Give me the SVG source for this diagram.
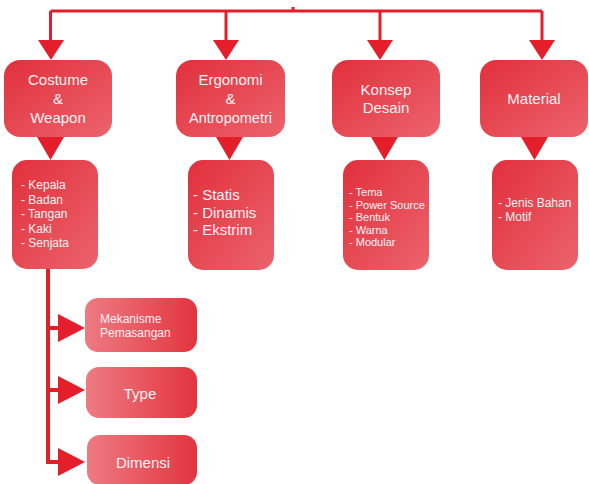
<svg xmlns="http://www.w3.org/2000/svg" width="589" height="484" viewBox="0 0 589 484">
<defs>
<linearGradient id="g1" x1="0" y1="0" x2="1" y2="1">
<stop offset="0" stop-color="#e1303c"/>
<stop offset="1" stop-color="#ec636c"/>
</linearGradient>
<linearGradient id="g2" x1="0" y1="0" x2="1" y2="0">
<stop offset="0" stop-color="#ee7b82"/>
<stop offset="1" stop-color="#e3343f"/>
</linearGradient>
</defs>
<style>
.box{fill:url(#g1);}
.box2{fill:url(#g2);}
.ln{stroke:#e31e2a;fill:none;}
.ah{fill:#e41e2b;}
text{font-family:"Liberation Sans",Arial,sans-serif;fill:#fff3f3;}
.c{text-anchor:middle;}
</style>
<g id="connectors">
<path class="ln" stroke-width="3" d="M50.5,11 H542 M50.5,11 V41 M226,11 V41 M380,11 V41 M542,11 V41 M293,7 V11"/>
<polygon class="ah" points="38,40 64,40 51,60"/>
<polygon class="ah" points="213,40 239,40 226,60"/>
<polygon class="ah" points="367,40 393,40 380,60"/>
<polygon class="ah" points="529,40 555,40 542,60"/>
<polygon class="ah" points="37,137 64,137 50.5,160"/>
<polygon class="ah" points="216,137 243,137 229.5,160"/>
<polygon class="ah" points="371,137 398,137 384.5,160"/>
<polygon class="ah" points="521,137 548,137 534.5,160"/>
<path class="ln" stroke-width="4" d="M48,269 V462 H60 M48,328 H60 M48,390 H60"/>
<polygon class="ah" points="58,314 58,342 85,328"/>
<polygon class="ah" points="58,376 58,404 85,390"/>
<polygon class="ah" points="58,448 58,476 85,462"/>
</g>
<g id="costume">
<rect class="box" x="4" y="60" width="108" height="77" rx="16"/>
<text class="c" x="58" y="85" font-size="15">Costume</text>
<text class="c" x="58" y="104" font-size="15">&amp;</text>
<text class="c" x="58" y="123" font-size="15">Weapon</text>
</g>
<g id="ergonomi">
<rect class="box" x="176" y="60" width="109" height="77" rx="16"/>
<text class="c" x="230.5" y="85" font-size="15">Ergonomi</text>
<text class="c" x="230.5" y="104" font-size="15">&amp;</text>
<text class="c" x="230.5" y="123" font-size="14.5">Antropometri</text>
</g>
<g id="konsep">
<rect class="box" x="332" y="60" width="108" height="77" rx="16"/>
<text class="c" x="386" y="95" font-size="15">Konsep</text>
<text class="c" x="386" y="113" font-size="15">Desain</text>
</g>
<g id="material">
<rect class="box" x="480" y="60" width="108" height="77" rx="16"/>
<text class="c" x="534" y="104" font-size="15">Material</text>
</g>
<g id="costume-list">
<rect class="box" x="12" y="160" width="86" height="109" rx="15"/>
<text x="21" font-size="12"><tspan x="21" y="189">- Kepala</tspan><tspan x="21" y="204">- Badan</tspan><tspan x="21" y="218">- Tangan</tspan><tspan x="21" y="233">- Kaki</tspan><tspan x="21" y="247">- Senjata</tspan></text>
</g>
<g id="ergonomi-list">
<rect class="box" x="188" y="160" width="86" height="110" rx="15"/>
<text x="193" font-size="15"><tspan x="193" y="200">- Statis</tspan><tspan x="193" y="217.5">- Dinamis</tspan><tspan x="193" y="235">- Ekstrim</tspan></text>
</g>
<g id="konsep-list">
<rect class="box" x="343" y="160" width="86" height="110" rx="15"/>
<text x="349" font-size="11"><tspan x="349" y="196">- Tema</tspan><tspan x="349" y="208.5">- Power Source</tspan><tspan x="349" y="221">- Bentuk</tspan><tspan x="349" y="233.5">- Warna</tspan><tspan x="349" y="246">- Modular</tspan></text>
</g>
<g id="material-list">
<rect class="box" x="492" y="160" width="86" height="110" rx="15"/>
<text x="498" font-size="12"><tspan x="498" y="206.5">- Jenis Bahan</tspan><tspan x="498" y="221">- Motif</tspan></text>
</g>
<g id="mekanisme">
<rect class="box2" x="85" y="298" width="112" height="54" rx="13"/>
<text x="100" font-size="12"><tspan x="100" y="323">Mekanisme</tspan><tspan x="100" y="337">Pemasangan</tspan></text>
</g>
<g id="type">
<rect class="box2" x="86" y="367" width="111" height="51" rx="13"/>
<text class="c" x="140" y="398.5" font-size="15">Type</text>
</g>
<g id="dimensi">
<rect class="box2" x="87" y="435" width="110" height="50" rx="13"/>
<text class="c" x="143" y="467.5" font-size="15">Dimensi</text>
</g>
</svg>
